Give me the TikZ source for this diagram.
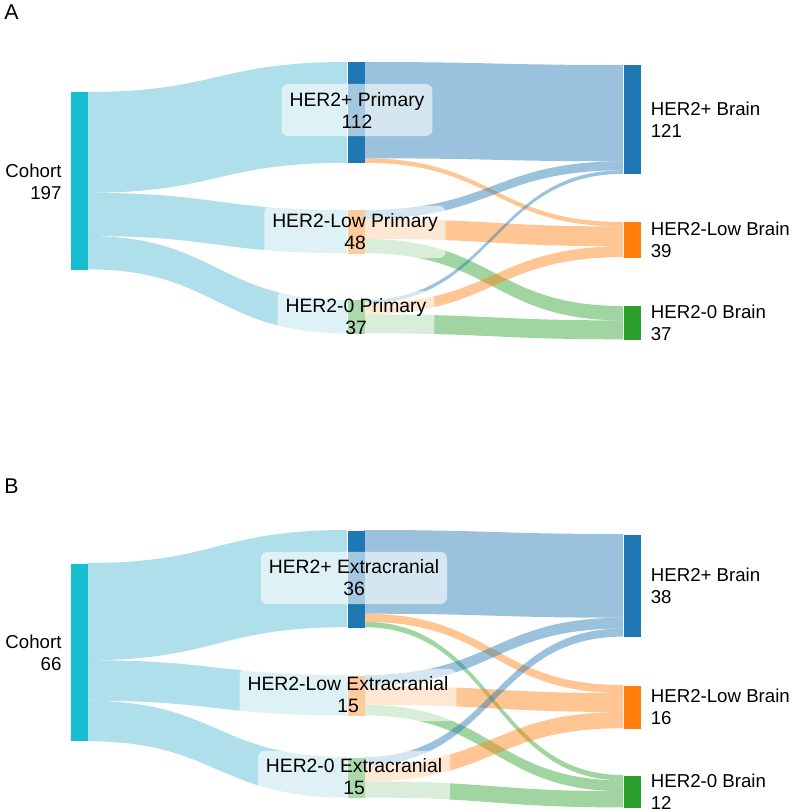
\documentclass[tikz,border=0pt]{standalone}
\usepackage{fontspec}
\setmainfont{Liberation Sans}
\usetikzlibrary{positioning}
\definecolor{cteal}{HTML}{17BECF}
\definecolor{cflow}{HTML}{4DB8D0}
\definecolor{cblue}{HTML}{1F77B4}
\definecolor{corange}{HTML}{FF7F0E}
\definecolor{cgreen}{HTML}{2CA02C}
\tikzset{every picture/.style={line width=0.75pt}}
\tikzset{
  bar/.style={draw=none, minimum width=12.75pt, inner sep=0pt, anchor=north west},
  lab/.style={align=center, font=\fontsize{14.5}{16.5}\selectfont, fill=white, fill opacity=0.6, text opacity=1, rounded corners=5pt, inner sep=6pt},
  side/.style={font=\fontsize{14}{16.5}\selectfont, inner sep=0pt},
  panel/.style={font=\fontsize{16}{18}\selectfont, inner sep=0pt, anchor=north west}
}
% ribbon: x1, top1, bot1, x2, top2, bot2, colour
\newcommand{\ribbon}[7]{%
  \fill[#7, opacity=0.45] (#1,#2) .. controls ({(#1+#4)/2},#2) and ({(#1+#4)/2},#5) .. (#4,#5)
    -- (#4,#6) .. controls ({(#1+#4)/2},#6) and ({(#1+#4)/2},#3) .. (#1,#3) -- cycle;}

\begin{document}
\begin{tikzpicture}[x=0.75pt,y=0.75pt,yscale=-1,xscale=1]
\useasboundingbox (0,0) rectangle (800,812);

%Panel A
\node[panel] (pA) at (4,4) {A};
\ribbon{87}{92}{192.8}{347}{62}{162.8}{cflow}
\ribbon{87}{192.8}{236}{347}{210}{253.2}{cflow}
\ribbon{87}{236}{269.3}{347}{300}{333.3}{cflow}
\ribbon{364}{62}{158.3}{623}{65}{161.3}{cblue}
\ribbon{364}{158.3}{162.8}{623}{222}{226.5}{corange}
\ribbon{364}{210}{219}{623}{161.3}{170.3}{cblue}
\ribbon{364}{219}{238.8}{623}{226.5}{246.3}{corange}
\ribbon{364}{238.8}{253.2}{623}{306}{320.4}{cgreen}
\ribbon{364}{300}{303.6}{623}{170.3}{173.9}{cblue}
\ribbon{364}{303.6}{314.4}{623}{246.3}{257.1}{corange}
\ribbon{364}{314.4}{333.3}{623}{320.4}{339.3}{cgreen}
\node[bar, fill=cteal, minimum height=133.5pt] (cohA) at (70,92) {};
\node[bar, fill=cblue, minimum height=75.6pt] (posA) at (347,62) {};
\node[bar, fill=corange, minimum height=32.4pt] (lowA) at (347,210) {};
\node[bar, fill=cgreen, minimum height=25pt] (zeroA) at (347,300) {};
\node[bar, fill=cblue, minimum height=81.7pt] (bposA) at (623,65) {};
\node[bar, fill=corange, minimum height=26.3pt] (blowA) at (623,222) {};
\node[bar, fill=cgreen, minimum height=25pt] (bzeroA) at (623,306) {};
\node[side, align=right, left=6pt of cohA] {Cohort\\197};
\node[lab] at (357,110) {HER2+ Primary\\112};
\node[lab] at (355,232) {HER2-Low Primary\\48};
\node[lab] at (356,317) {HER2-0 Primary\\37};
\node[side, align=left, right=7pt of bposA] {HER2+ Brain\\121};
\node[side, align=left, right=7pt of blowA] {HER2-Low Brain\\39};
\node[side, align=left, right=7pt of bzeroA] {HER2-0 Brain\\37};

%Panel B
\node[panel] (pB) at (4,478) {B};
\ribbon{87}{563}{660.2}{347}{530}{627.2}{cflow}
\ribbon{87}{660.2}{700.7}{347}{675}{715.5}{cflow}
\ribbon{87}{700.7}{741.2}{347}{757}{797.5}{cflow}
\ribbon{364}{530}{613.7}{623}{534}{617.7}{cblue}
\ribbon{364}{613.7}{621.8}{623}{685}{693.1}{corange}
\ribbon{364}{621.8}{627.2}{623}{775}{780.4}{cgreen}
\ribbon{364}{675}{685.8}{623}{617.7}{628.5}{cblue}
\ribbon{364}{685.8}{704.7}{623}{693.1}{712}{corange}
\ribbon{364}{704.7}{715.5}{623}{780.4}{791.2}{cgreen}
\ribbon{364}{757}{765.1}{623}{628.5}{636.6}{cblue}
\ribbon{364}{765.1}{781.3}{623}{712}{728.2}{corange}
\ribbon{364}{781.3}{797.5}{623}{791.2}{807.4}{cgreen}
\node[bar, fill=cteal, minimum height=133.4pt] (cohB) at (70,563) {};
\node[bar, fill=cblue, minimum height=72.9pt] (posB) at (347,530) {};
\node[bar, fill=corange, minimum height=30.4pt] (lowB) at (347,675) {};
\node[bar, fill=cgreen, minimum height=30.4pt] (zeroB) at (347,757) {};
\node[bar, fill=cblue, minimum height=77pt] (bposB) at (623,534) {};
\node[bar, fill=corange, minimum height=32.4pt] (blowB) at (623,685) {};
\node[bar, fill=cgreen, minimum height=24.3pt] (bzeroB) at (623,775) {};
\node[side, align=right, left=6pt of cohB] {Cohort\\66};
\node[lab] at (354,578) {HER2+ Extracranial\\36};
\node[lab] at (348,695) {HER2-Low Extracranial\\15};
\node[lab] at (354,777) {HER2-0 Extracranial\\15};
\node[side, align=left, right=7pt of bposB] {HER2+ Brain\\38};
\node[side, align=left, right=7pt of blowB] {HER2-Low Brain\\16};
\node[side, align=left, right=7pt of bzeroB] {HER2-0 Brain\\12};
\end{tikzpicture}
\end{document}
